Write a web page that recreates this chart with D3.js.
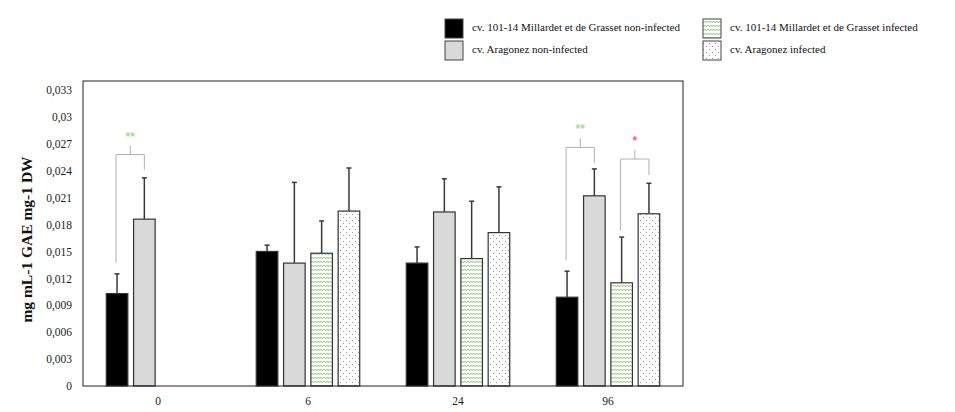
<!DOCTYPE html>
<html><head><meta charset="utf-8">
<script src="https://cdn.jsdelivr.net/npm/d3@7"></script>
<style>body{margin:0;background:#fff}svg{display:block}
svg text{font-family:"Liberation Serif","Times New Roman","DejaVu Serif",serif}</style>
</head><body><svg id="c" width="955" height="412"></svg>
<script>
const categories = ["0", "6", "24", "96"];
const seriesNames = [
  "cv. 101-14 Millardet et de Grasset non-infected",
  "cv. Aragonez non-infected",
  "cv. 101-14 Millardet et de Grasset infected",
  "cv. Aragonez infected"
];
const millardetNonInf = [0.0103, 0.0150, 0.0137, 0.0099];
const aragonezNonInf  = [0.0186, 0.0137, 0.0194, 0.0212];
const millardetInf    = [null,   0.0148, 0.0142, 0.0115];
const aragonezInf     = [null,   0.0195, 0.0171, 0.0192];
const millardetNonInfErr = [0.0022, 0.0007, 0.0018, 0.0029];
const aragonezNonInfErr  = [0.0046, 0.0090, 0.0037, 0.0030];
const millardetInfErr    = [null,   0.0036, 0.0064, 0.0051];
const aragonezInfErr     = [null,   0.0048, 0.0051, 0.0034];
const yTicks = [0,0.003,0.006,0.009,0.012,0.015,0.018,0.021,0.024,0.027,0.030,0.033];
const yTitle = "mg mL-1 GAE mg-1 DW";
// significance brackets: category, series a, series b, leg-a bottom, leg-b bottom, bar top, label
const brackets = [
  {cat:"0",  a:0, b:1, yA:0.0137, yB:0.0241, yTop:0.0258, label:"**", kind:"g"},
  {cat:"96", a:0, b:1, yA:0.0140, yB:0.0249, yTop:0.0266, label:"**", kind:"g"},
  {cat:"96", a:2, b:3, yA:0.0173, yB:0.0235, yTop:0.0253, label:"*",  kind:"r"}
];

const values = [millardetNonInf, aragonezNonInf, millardetInf, aragonezInf];
const errors = [millardetNonInfErr, aragonezNonInfErr, millardetInfErr, aragonezInfErr];

const svg = d3.select("#c");
const L = 83, R = 683, T = 81, B = 386;
const SERIF = '"Liberation Serif","Times New Roman","DejaVu Serif",serif';

const defs = svg.append("defs");
const pz = defs.append("pattern").attr("id","zig").attr("patternUnits","userSpaceOnUse")
  .attr("width",3).attr("height",4);
pz.append("rect").attr("width",3).attr("height",4).attr("fill","#fff");
pz.append("path").attr("d","M0,2.6 L0.75,1.4 L1.5,2.6 L2.25,1.4 L3,2.6").attr("fill","none")
  .attr("stroke","#7fb865").attr("stroke-width",0.75);
const pd = defs.append("pattern").attr("id","dots").attr("patternUnits","userSpaceOnUse")
  .attr("width",6).attr("height",6);
pd.append("rect").attr("width",6).attr("height",6).attr("fill","#fff");
pd.append("rect").attr("x",1).attr("y",1).attr("width",1).attr("height",1).attr("fill","#999");
pd.append("rect").attr("x",4).attr("y",4).attr("width",1).attr("height",1).attr("fill","#999");

const fills = ["#000000", "#d9d9d9", "url(#zig)", "url(#dots)"];

const x0 = d3.scaleBand().domain(categories).range([L, R]);
const x1 = d3.scaleBand().domain(d3.range(4)).range([-54.6, 54.6]).paddingInner(0.21).paddingOuter(0.105);
const y = d3.scaleLinear().domain([0, 0.034]).range([B, T]);

const loc = d3.formatLocale({decimal:",", thousands:".", grouping:[3], currency:["",""]});
const fmt = loc.format(".3~f");

// y axis
const ya = svg.append("g").attr("transform",`translate(${L},0)`)
  .call(d3.axisLeft(y).tickValues(yTicks).tickFormat(fmt).tickSize(0).tickPadding(11));
ya.select(".domain").remove();
ya.attr("font-family", SERIF).attr("font-size", 11.5);
ya.selectAll("text").attr("fill","#222");

// x axis
const xa = svg.append("g").attr("transform",`translate(0,${B})`)
  .call(d3.axisBottom(x0).tickSize(0).tickPadding(11));
xa.select(".domain").remove();
xa.attr("font-family", SERIF).attr("font-size", 11.5);
xa.selectAll("text").attr("fill","#222");

// bars
const rows = [];
categories.forEach((c, i) => values.forEach((s, k) => {
  if (s[i] != null) rows.push({c, k, v: s[i], e: errors[k][i]});
}));
const cx = d => x0(d.c) + x0.bandwidth()/2 + x1(d.k);
svg.append("g").selectAll("rect").data(rows).join("rect")
  .attr("x", d => cx(d)).attr("y", d => y(d.v))
  .attr("width", x1.bandwidth()).attr("height", d => y(0) - y(d.v))
  .attr("fill", d => fills[d.k]).attr("stroke", "#333").attr("stroke-width", 1.2);

// error bars
const eg = svg.append("g").attr("stroke","#3a3a3a").attr("stroke-width",1.5);
rows.forEach(d => {
  const mx = cx(d) + x1.bandwidth()/2;
  eg.append("line").attr("x1",mx).attr("x2",mx).attr("y1",y(d.v)).attr("y2",y(d.v+d.e));
  eg.append("line").attr("x1",mx-2.5).attr("x2",mx+2.5).attr("y1",y(d.v+d.e)).attr("y2",y(d.v+d.e));
});

// brackets
const bg = svg.append("g").attr("stroke","#b0b0b0").attr("stroke-width",1).attr("fill","none");
brackets.forEach(b => {
  const xa_ = x0(b.cat) + x0.bandwidth()/2 + x1(b.a) + x1.bandwidth()/2 - 1;
  const xb_ = x0(b.cat) + x0.bandwidth()/2 + x1(b.b) + x1.bandwidth()/2;
  const ym = (xa_ + xb_)/2;
  bg.append("path").attr("d", `M${xa_},${y(b.yA)}V${y(b.yTop)}H${xb_}V${y(b.yB)}`);
  bg.append("line").attr("x1",ym).attr("x2",ym).attr("y1",y(b.yTop)).attr("y2",y(b.yTop)-9);
  svg.append("text").attr("x",ym).attr("y",y(b.yTop)-14).attr("text-anchor","middle")
    .style("font-family",'"Liberation Sans",sans-serif').attr("font-size",12).attr("font-weight","bold")
    .attr("fill", b.kind==="g" ? "#a3e08f" : "#f26b6b").text(b.label);
});

// frame
svg.append("rect").attr("x",L).attr("y",T).attr("width",R-L).attr("height",B-T)
  .attr("fill","none").attr("stroke","#222").attr("stroke-width",1);

// y title
svg.append("text").attr("transform",`translate(32,${(T+B)/2+6}) rotate(-90)`)
  .attr("text-anchor","middle").attr("font-weight","bold")
  .attr("font-size",15.5).attr("fill","#111").text(yTitle);

// legend
const legPos = [[445,19],[445,41],[703,19],[703,41]];
const lg = svg.append("g");
seriesNames.forEach((n,k) => {
  const [lx,ly] = legPos[k];
  lg.append("rect").attr("x",lx).attr("y",ly).attr("width",18).attr("height",19)
    .attr("fill",fills[k]).attr("stroke","#444").attr("stroke-width",1);
  lg.append("text").attr("x",lx+27).attr("y",ly+12).attr("font-size",11).attr("fill","#111").text(n);
});
</script></body></html>
